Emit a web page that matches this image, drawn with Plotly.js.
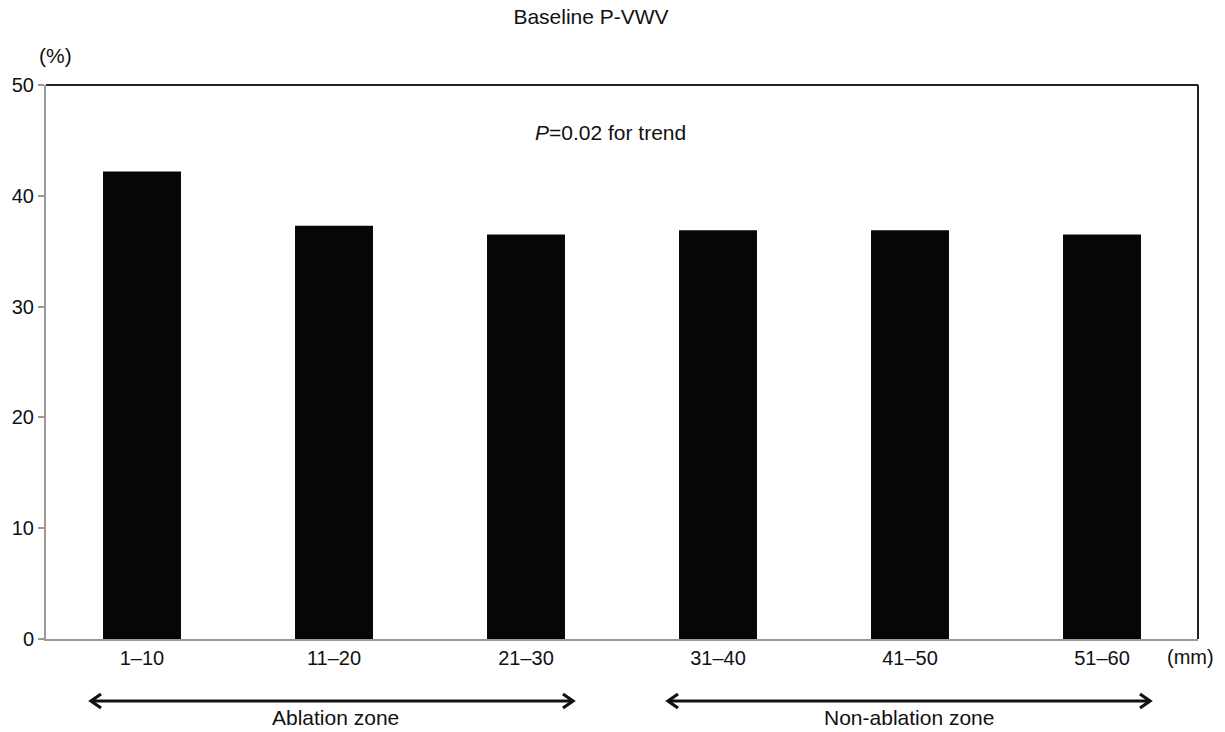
<!DOCTYPE html>
<html>
<head>
<meta charset="utf-8">
<script src="https://cdn.plot.ly/plotly-3.0.1.min.js"></script>
<style>html,body{margin:0;padding:0;background:#fff;}#chart{width:1225px;height:732px;}</style>
</head>
<body>
<div id="chart"></div>
<script>
const categories = ["1\u201310", "11\u201320", "21\u201330", "31\u201340", "41\u201350", "51\u201360"];
const values = [42.2, 37.3, 36.5, 36.9, 36.9, 36.5];
const yTicks = [0, 10, 20, 30, 40, 50];
const chartTitle = "Baseline P-VWV";
const pText = "<i>P</i>=0.02 for trend";
const zoneLabels = ["Ablation zone", "Non-ablation zone"];

const W = 1225, H = 732;
const L = 46, R = 1198, T = 85, B = 639;
const px = x => (x - L) / (R - L);
const py = y => (B - y) / (B - T);

const family = "Liberation Sans, Arial, sans-serif";
const tickFont = {family: family, size: 20, color: "#111"};
const font = {family: family, size: 21, color: "#111"};

function arrowShapes(x0, x1, y) {
  const c = "#111", w = 3.2, hx = 10, hy = 7;
  return [
    {type: "line", xref: "paper", yref: "paper", x0: px(x0 + 1), x1: px(x1 - 1), y0: py(y), y1: py(y), line: {color: c, width: w}},
    {type: "path", xref: "paper", yref: "paper",
     path: `M ${px(x0 + hx)} ${py(y - hy)} L ${px(x0)} ${py(y)} L ${px(x0 + hx)} ${py(y + hy)}`,
     line: {color: c, width: w}},
    {type: "path", xref: "paper", yref: "paper",
     path: `M ${px(x1 - hx)} ${py(y - hy)} L ${px(x1)} ${py(y)} L ${px(x1 - hx)} ${py(y + hy)}`,
     line: {color: c, width: w}}
  ];
}

const trace = {
  type: "bar",
  x: categories,
  y: values,
  marker: {color: "#060608", line: {width: 0}},
  hoverinfo: "x+y"
};

const layout = {
  width: W, height: H,
  margin: {l: L, r: W - R, t: T, b: H - B},
  paper_bgcolor: "#fff",
  plot_bgcolor: "#fff",
  font: font,
  showlegend: false,
  bargap: 0.594,
  title: {text: chartTitle, x: px(591), xref: "paper", xanchor: "center", y: 1 - 17 / H, yanchor: "middle", font: font},
  xaxis: {
    type: "category",
    showline: true, linecolor: "#999", linewidth: 2,
    ticks: "", showgrid: false, zeroline: false,
    tickfont: tickFont, automargin: false
  },
  yaxis: {
    range: [0, 50], tickvals: yTicks,
    showline: true, linecolor: "#999", linewidth: 2,
    ticks: "outside", ticklen: 6, tickcolor: "#999", tickwidth: 2,
    showgrid: false, zeroline: false,
    tickfont: tickFont, automargin: false
  },
  shapes: [
    {type: "line", xref: "paper", yref: "paper", x0: 0, x1: 1, y0: 1, y1: 1, line: {color: "#222", width: 2}},
    {type: "line", xref: "paper", yref: "paper", x0: 1, x1: 1, y0: 0, y1: 1, line: {color: "#222", width: 2}}
  ].concat(arrowShapes(91, 573, 701), arrowShapes(668, 1150, 701)),
  annotations: [
    {text: pText, xref: "paper", yref: "paper", x: px(610), y: py(132), showarrow: false, xanchor: "center", yanchor: "middle", font: font},
    {text: "(%)", xref: "paper", yref: "paper", x: px(55), y: py(56), showarrow: false, xanchor: "center", yanchor: "middle", font: font},
    {text: "(mm)", xref: "paper", yref: "paper", x: px(1190), y: py(657), showarrow: false, xanchor: "center", yanchor: "middle", font: tickFont},
    {text: zoneLabels[0], xref: "paper", yref: "paper", x: px(335), y: py(731), showarrow: false, xanchor: "center", yanchor: "bottom", font: font},
    {text: zoneLabels[1], xref: "paper", yref: "paper", x: px(909), y: py(731), showarrow: false, xanchor: "center", yanchor: "bottom", font: font}
  ]
};

Plotly.newPlot("chart", [trace], layout, {displayModeBar: false, staticPlot: true});
</script>
</body>
</html>
